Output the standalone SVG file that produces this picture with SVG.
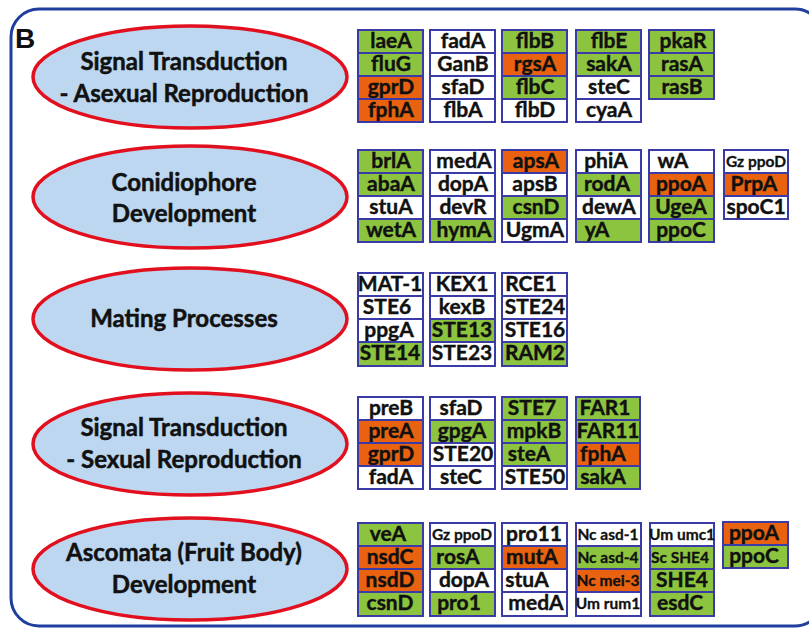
<svg xmlns="http://www.w3.org/2000/svg" width="809" height="633" viewBox="0 0 809 633">
  <style>
    .frame { fill: none; stroke: #1f3e9e; stroke-width: 3; }
    .oval { fill: #bcd7ef; stroke: #e2101e; stroke-width: 3.5; }
    .title { font-family: Lato, "Noto Sans", "Liberation Sans", sans-serif; font-weight: bold; font-size: 24px; fill: #111; stroke: #111; stroke-width: 0.5; text-anchor: middle; }
    .cell { stroke: #3b3ba8; stroke-width: 2; }
    .g { fill: #8cc43f; }
    .o { fill: #e8620f; }
    .w { fill: #ffffff; }
    .lbl { font-family: Lato, "Noto Sans", "Liberation Sans", sans-serif; font-weight: bold; font-size: 21px; fill: #111; stroke: #111; stroke-width: 0.4; text-anchor: middle; }
    .sm { font-size: 15.5px; stroke-width: 0.3; }
    .tag { font-family: "Liberation Sans", Arial, sans-serif; font-weight: bold; font-size: 28px; fill: #111; }
  </style>

  <rect class="frame" x="11" y="9" width="812" height="617" rx="28"/>
  <text class="tag" x="15" y="48">B</text>

  <!-- category ovals -->
  <g id="cat-asexual">
    <ellipse class="oval" cx="190" cy="77" rx="157" ry="51"/>
    <text class="title" x="184" y="70">Signal Transduction</text>
    <text class="title" x="184" y="102">- Asexual Reproduction</text>
  </g>
  <g id="cat-conidiophore">
    <ellipse class="oval" cx="190" cy="197" rx="157" ry="51"/>
    <text class="title" x="184" y="191">Conidiophore</text>
    <text class="title" x="184" y="222">Development</text>
  </g>
  <g id="cat-mating">
    <ellipse class="oval" cx="190" cy="319" rx="157" ry="51"/>
    <text class="title" x="184" y="327">Mating Processes</text>
  </g>
  <g id="cat-sexual">
    <ellipse class="oval" cx="190" cy="444" rx="157" ry="51"/>
    <text class="title" x="184" y="436">Signal Transduction</text>
    <text class="title" x="184" y="468">- Sexual Reproduction</text>
  </g>
  <g id="cat-ascomata">
    <ellipse class="oval" cx="190" cy="569" rx="157" ry="51"/>
    <text class="title" x="184" y="561">Ascomata (Fruit Body)</text>
    <text class="title" x="184" y="593">Development</text>
  </g>

  <!-- gene tables: each column is a stack of 23px cells -->
  <g id="genes-asexual">
    <g id="a1">
      <rect class="cell g" x="358" y="30" width="65" height="23"/><text class="lbl" x="391" y="48">laeA</text>
      <rect class="cell g" x="358" y="53" width="65" height="23"/><text class="lbl" x="391" y="71">fluG</text>
      <rect class="cell o" x="358" y="76" width="65" height="23"/><text class="lbl" x="391" y="94">gprD</text>
      <rect class="cell o" x="358" y="99" width="65" height="23"/><text class="lbl" x="391" y="117">fphA</text>
    </g>
    <g id="a2">
      <rect class="cell w" x="430" y="30" width="65" height="23"/><text class="lbl" x="463" y="48">fadA</text>
      <rect class="cell w" x="430" y="53" width="65" height="23"/><text class="lbl" x="463" y="71">GanB</text>
      <rect class="cell w" x="430" y="76" width="65" height="23"/><text class="lbl" x="463" y="94">sfaD</text>
      <rect class="cell w" x="430" y="99" width="65" height="23"/><text class="lbl" x="463" y="117">flbA</text>
    </g>
    <g id="a3">
      <rect class="cell g" x="502" y="30" width="65" height="23"/><text class="lbl" x="535" y="48">flbB</text>
      <rect class="cell o" x="502" y="53" width="65" height="23"/><text class="lbl" x="535" y="71">rgsA</text>
      <rect class="cell g" x="502" y="76" width="65" height="23"/><text class="lbl" x="535" y="94">flbC</text>
      <rect class="cell w" x="502" y="99" width="65" height="23"/><text class="lbl" x="535" y="117">flbD</text>
    </g>
    <g id="a4">
      <rect class="cell g" x="576" y="30" width="65" height="23"/><text class="lbl" x="609" y="48">flbE</text>
      <rect class="cell g" x="576" y="53" width="65" height="23"/><text class="lbl" x="609" y="71">sakA</text>
      <rect class="cell w" x="576" y="76" width="65" height="23"/><text class="lbl" x="609" y="94">steC</text>
      <rect class="cell w" x="576" y="99" width="65" height="23"/><text class="lbl" x="609" y="117">cyaA</text>
    </g>
    <g id="a5">
      <rect class="cell g" x="649" y="30" width="65" height="23"/><text class="lbl" x="683" y="48">pkaR</text>
      <rect class="cell g" x="649" y="53" width="65" height="23"/><text class="lbl" x="682" y="71">rasA</text>
      <rect class="cell g" x="649" y="76" width="65" height="23"/><text class="lbl" x="682" y="94">rasB</text>
    </g>
  </g>

  <g id="genes-conidiophore">
    <g id="c1">
      <rect class="cell g" x="358" y="150" width="65" height="23"/><text class="lbl" x="391" y="168">brlA</text>
      <rect class="cell g" x="358" y="173" width="65" height="23"/><text class="lbl" x="391" y="191">abaA</text>
      <rect class="cell w" x="358" y="196" width="65" height="23"/><text class="lbl" x="391" y="214">stuA</text>
      <rect class="cell g" x="358" y="219" width="65" height="23"/><text class="lbl" x="391" y="237">wetA</text>
    </g>
    <g id="c2">
      <rect class="cell w" x="430" y="150" width="65" height="23"/><text class="lbl" x="464" y="168">medA</text>
      <rect class="cell w" x="430" y="173" width="65" height="23"/><text class="lbl" x="463" y="191">dopA</text>
      <rect class="cell w" x="430" y="196" width="65" height="23"/><text class="lbl" x="463" y="214">devR</text>
      <rect class="cell g" x="430" y="219" width="65" height="23"/><text class="lbl" x="464" y="237">hymA</text>
    </g>
    <g id="c3">
      <rect class="cell o" x="502" y="150" width="65" height="23"/><text class="lbl" x="536" y="168">apsA</text>
      <rect class="cell w" x="502" y="173" width="65" height="23"/><text class="lbl" x="535" y="191">apsB</text>
      <rect class="cell g" x="502" y="196" width="65" height="23"/><text class="lbl" x="536" y="214">csnD</text>
      <rect class="cell w" x="502" y="219" width="65" height="23"/><text class="lbl" x="535" y="237">UgmA</text>
    </g>
    <g id="c4">
      <rect class="cell w" x="576" y="150" width="65" height="23"/><text class="lbl" x="606" y="168">phiA</text>
      <rect class="cell g" x="576" y="173" width="65" height="23"/><text class="lbl" x="607" y="191">rodA</text>
      <rect class="cell w" x="576" y="196" width="65" height="23"/><text class="lbl" x="609" y="214">dewA</text>
      <rect class="cell g" x="576" y="219" width="65" height="23"/><text class="lbl" x="597" y="237">yA</text>
    </g>
    <g id="c5">
      <rect class="cell w" x="649" y="150" width="65" height="23"/><text class="lbl" x="673" y="168">wA</text>
      <rect class="cell o" x="649" y="173" width="65" height="23"/><text class="lbl" x="681" y="191">ppoA</text>
      <rect class="cell g" x="649" y="196" width="65" height="23"/><text class="lbl" x="681" y="214">UgeA</text>
      <rect class="cell g" x="649" y="219" width="65" height="23"/><text class="lbl" x="681" y="237">ppoC</text>
    </g>
    <g id="c6">
      <rect class="cell w" x="724" y="150" width="64" height="23"/><text class="lbl sm" x="756" y="167">Gz ppoD</text>
      <rect class="cell o" x="724" y="173" width="64" height="23"/><text class="lbl" x="754" y="191">PrpA</text>
      <rect class="cell w" x="724" y="196" width="64" height="23"/><text class="lbl" x="756" y="214">spoC1</text>
    </g>
  </g>

  <g id="genes-mating">
    <g id="m1">
      <rect class="cell w" x="358" y="273" width="65" height="23"/><text class="lbl" x="390" y="291">MAT-1</text>
      <rect class="cell w" x="358" y="296" width="65" height="23"/><text class="lbl" x="387" y="314">STE6</text>
      <rect class="cell w" x="358" y="319" width="65" height="23"/><text class="lbl" x="389" y="337">ppgA</text>
      <rect class="cell g" x="358" y="342" width="65" height="24"/><text class="lbl" x="390" y="360">STE14</text>
    </g>
    <g id="m2">
      <rect class="cell w" x="430" y="273" width="65" height="23"/><text class="lbl" x="462" y="291">KEX1</text>
      <rect class="cell w" x="430" y="296" width="65" height="23"/><text class="lbl" x="462" y="314">kexB</text>
      <rect class="cell g" x="430" y="319" width="65" height="23"/><text class="lbl" x="462" y="337">STE13</text>
      <rect class="cell w" x="430" y="342" width="65" height="24"/><text class="lbl" x="462" y="360">STE23</text>
    </g>
    <g id="m3">
      <rect class="cell w" x="502" y="273" width="65" height="23"/><text class="lbl" x="531" y="291">RCE1</text>
      <rect class="cell w" x="502" y="296" width="65" height="23"/><text class="lbl" x="535" y="314">STE24</text>
      <rect class="cell w" x="502" y="319" width="65" height="23"/><text class="lbl" x="535" y="337">STE16</text>
      <rect class="cell g" x="502" y="342" width="65" height="24"/><text class="lbl" x="535" y="360">RAM2</text>
    </g>
  </g>

  <g id="genes-sexual">
    <g id="s1">
      <rect class="cell w" x="358" y="397" width="65" height="23"/><text class="lbl" x="391" y="415">preB</text>
      <rect class="cell o" x="358" y="420" width="65" height="23"/><text class="lbl" x="391" y="438">preA</text>
      <rect class="cell o" x="358" y="443" width="65" height="23"/><text class="lbl" x="391" y="461">gprD</text>
      <rect class="cell w" x="358" y="466" width="65" height="23"/><text class="lbl" x="391" y="484">fadA</text>
    </g>
    <g id="s2">
      <rect class="cell w" x="430" y="397" width="65" height="23"/><text class="lbl" x="461" y="415">sfaD</text>
      <rect class="cell g" x="430" y="420" width="65" height="23"/><text class="lbl" x="462" y="438">gpgA</text>
      <rect class="cell w" x="430" y="443" width="65" height="23"/><text class="lbl" x="463" y="461">STE20</text>
      <rect class="cell w" x="430" y="466" width="65" height="23"/><text class="lbl" x="461" y="484">steC</text>
    </g>
    <g id="s3">
      <rect class="cell g" x="502" y="397" width="65" height="23"/><text class="lbl" x="532" y="415">STE7</text>
      <rect class="cell g" x="502" y="420" width="65" height="23"/><text class="lbl" x="534" y="438">mpkB</text>
      <rect class="cell g" x="502" y="443" width="65" height="23"/><text class="lbl" x="529" y="461">steA</text>
      <rect class="cell w" x="502" y="466" width="65" height="23"/><text class="lbl" x="535" y="484">STE50</text>
    </g>
    <g id="s4">
      <rect class="cell g" x="576" y="397" width="64" height="23"/><text class="lbl" x="605" y="415">FAR1</text>
      <rect class="cell g" x="576" y="420" width="64" height="23"/><text class="lbl" x="608" y="438">FAR11</text>
      <rect class="cell o" x="576" y="443" width="64" height="23"/><text class="lbl" x="603" y="461">fphA</text>
      <rect class="cell g" x="576" y="466" width="64" height="23"/><text class="lbl" x="603" y="484">sakA</text>
    </g>
  </g>

  <g id="genes-ascomata">
    <g id="f1">
      <rect class="cell g" x="358" y="523" width="65" height="23"/><text class="lbl" x="388" y="541">veA</text>
      <rect class="cell o" x="358" y="546" width="65" height="23"/><text class="lbl" x="390" y="564">nsdC</text>
      <rect class="cell o" x="358" y="569" width="65" height="23"/><text class="lbl" x="390" y="587">nsdD</text>
      <rect class="cell g" x="358" y="592" width="65" height="24"/><text class="lbl" x="390" y="610">csnD</text>
    </g>
    <g id="f2">
      <rect class="cell w" x="430" y="523" width="65" height="23"/><text class="lbl sm" x="462" y="540">Gz ppoD</text>
      <rect class="cell g" x="430" y="546" width="65" height="23"/><text class="lbl" x="458" y="564">rosA</text>
      <rect class="cell w" x="430" y="569" width="65" height="23"/><text class="lbl" x="464" y="587">dopA</text>
      <rect class="cell g" x="430" y="592" width="65" height="24"/><text class="lbl" x="459" y="610">pro1</text>
    </g>
    <g id="f3">
      <rect class="cell w" x="502" y="523" width="65" height="23"/><text class="lbl" x="534" y="541">pro11</text>
      <rect class="cell o" x="502" y="546" width="65" height="23"/><text class="lbl" x="532" y="564">mutA</text>
      <rect class="cell w" x="502" y="569" width="65" height="23"/><text class="lbl" x="527" y="587">stuA</text>
      <rect class="cell w" x="502" y="592" width="65" height="24"/><text class="lbl" x="536" y="610">medA</text>
    </g>
    <g id="f4">
      <rect class="cell w" x="576" y="523" width="65" height="23"/><text class="lbl sm" x="608" y="540">Nc asd-1</text>
      <rect class="cell g" x="576" y="546" width="65" height="23"/><text class="lbl sm" x="608" y="563">Nc asd-4</text>
      <rect class="cell o" x="576" y="569" width="65" height="23"/><text class="lbl sm" x="608" y="586">Nc mei-3</text>
      <rect class="cell w" x="576" y="592" width="65" height="24"/><text class="lbl sm" x="608" y="609">Um rum1</text>
    </g>
    <g id="f5">
      <rect class="cell w" x="650" y="523" width="64" height="23"/><text class="lbl sm" x="682" y="540">Um umc1</text>
      <rect class="cell g" x="650" y="546" width="64" height="23"/><text class="lbl sm" x="680" y="563">Sc SHE4</text>
      <rect class="cell g" x="650" y="569" width="64" height="23"/><text class="lbl" x="682" y="587">SHE4</text>
      <rect class="cell g" x="650" y="592" width="64" height="24"/><text class="lbl" x="680" y="610">esdC</text>
    </g>
    <g id="f6">
      <rect class="cell o" x="723" y="522" width="65" height="23"/><text class="lbl" x="754" y="540">ppoA</text>
      <rect class="cell g" x="723" y="545" width="65" height="23"/><text class="lbl" x="754" y="563">ppoC</text>
    </g>
  </g>

  <!-- no connectors in this figure -->
  <g id="connectors"/>
</svg>
